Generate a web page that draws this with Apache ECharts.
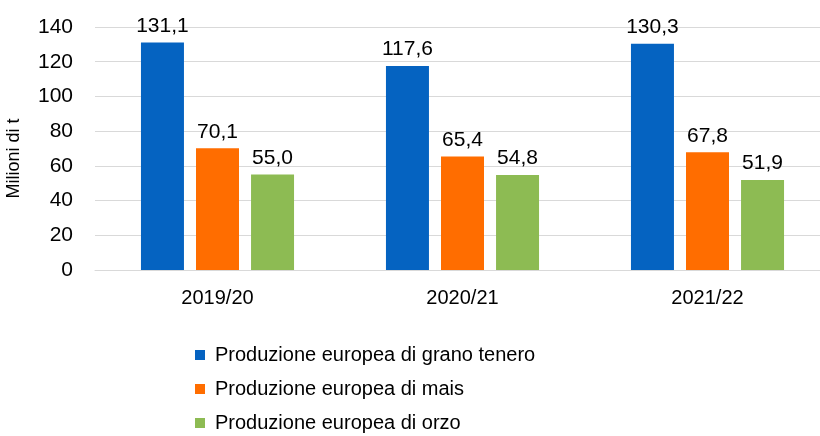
<!DOCTYPE html>
<html>
<head>
<meta charset="utf-8">
<script src="https://cdn.jsdelivr.net/npm/echarts@6/dist/echarts.min.js"></script>
<style>
  html, body { margin: 0; padding: 0; background: #fff; }
  #chart { width: 820px; height: 436px; }
</style>
</head>
<body>
<div id="chart"></div>
<script>
const categorie = ['2019/20', '2020/21', '2021/22'];
const grano = [131.1, 117.6, 130.3];
const mais = [70.1, 65.4, 67.8];
const orzo = [55.0, 54.8, 51.9];
const nomi = ['Produzione europea di grano tenero', 'Produzione europea di mais', 'Produzione europea di orzo'];
const colori = ['#0563C1', '#FF6D00', '#8DBB53'];

const fmt = (p) => p.value.toFixed(1).replace('.', ',');

const serie = (nome, dati, colore) => {
  return {
    name: nome,
    type: 'bar',
    data: dati,
    barWidth: 43,
    barGap: '28%',
    itemStyle: { color: colore },
    label: {
      show: true,
      position: 'top',
      distance: 6,
      formatter: fmt,
      fontSize: 21,
      color: '#000',
      fontFamily: 'Liberation Sans'
    }
  };
};

const getOption = () =>
{
  return {
    animation: false,
    textStyle: { fontFamily: 'Liberation Sans' },
    grid: { left: 95, top: 27, width: 735, height: 243, outerBoundsMode: 'none', containLabel: false },
    legend: {
      orient: 'vertical',
      left: 195,
      top: 345,
      height: 120,
      padding: 0,
      itemWidth: 10,
      itemHeight: 10,
      itemGap: 14,
      icon: 'rect',
      textStyle: { fontSize: 20, color: '#000', padding: [0, 0, 0, 5] },
      data: nomi
    },
    xAxis: {
      type: 'category',
      data: categorie,
      axisLine: { lineStyle: { color: '#d9d9d9' } },
      axisTick: { show: false },
      axisLabel: { fontSize: 20, color: '#000', margin: 18 }
    },
    yAxis: {
      type: 'value',
      min: 0,
      max: 140,
      interval: 20,
      name: 'Milioni di t',
      nameLocation: 'middle',
      nameRotate: 90,
      nameGap: 72,
      nameTextStyle: { fontSize: 18, color: '#000', padding: [0, 20, 0, 0] },
      axisLabel: { fontSize: 21, color: '#000', margin: 22 },
      splitLine: { lineStyle: { color: '#d9d9d9' } }
    },
    series: [
      serie(nomi[0], grano, colori[0]),
      serie(nomi[1], mais, colori[1]),
      serie(nomi[2], orzo, colori[2])
    ]
  };
};

window.addEventListener('load', () =>
{
  const chart = echarts.init(document.getElementById('chart'));
  chart.setOption(getOption());
});
</script>
</body>
</html>
